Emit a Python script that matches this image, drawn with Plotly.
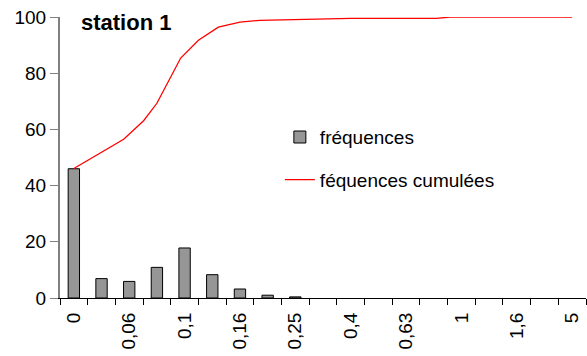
import plotly.graph_objects as go

# Sieve classes (mm) and frequency of each class (%)
classes = ["0", "0,04", "0,06", "0,08", "0,1", "0,125", "0,16", "0,2", "0,25",
           "0,315", "0,4", "0,5", "0,63", "0,8", "1", "1,25", "1,6", "2", "5"]
frequences = [46, 6.9, 5.9, 10.9, 17.8, 8.3, 3.2, 1.0, 0.4,
              0, 0, 0, 0, 0, 0, 0, 0, 0, 0]

# Cumulative curve: position along the class axis (class index) and value (%)
cumul_pos = [0, 1.8, 2.52, 3.0, 3.86, 4.5, 5.22, 6.0, 6.72, 10.0, 13.1, 13.6, 18]
cumul_val = [46.1, 56.5, 63.1, 69.3, 85.4, 91.7, 96.4, 98.2, 98.8, 99.5, 99.5, 100, 100]

# Only every second class is labelled
tick_text = [c if i % 2 == 0 else "" for i, c in enumerate(classes)]

# Empty classes get no bar at all
bar_heights = [v if v > 0 else None for v in frequences]

FONT = "Arial, Liberation Sans, sans-serif"

fig = go.Figure()
fig.add_trace(go.Bar(
    x=classes, y=bar_heights, name="fréquences",
    marker=dict(color="#969696", line=dict(color="#000000", width=1)),
    legendgroup="a",
))
fig.add_trace(go.Scatter(
    x=cumul_pos, y=cumul_val, name="féquences cumulées",
    mode="lines", line=dict(color="#FF0000", width=1.3),
    xaxis="x2", legendgroup="b",
))

fig.update_layout(
    width=587, height=356,
    margin=dict(l=60, r=1, t=17, b=58),
    paper_bgcolor="white", plot_bgcolor="white",
    font=dict(family=FONT, size=19, color="#000000"),
    bargap=0.59,
    showlegend=True,
    legend=dict(
        x=0.418, y=0.64, xanchor="left", yanchor="top",
        bgcolor="rgba(0,0,0,0)", tracegroupgap=15,
        font=dict(size=19),
    ),
    xaxis=dict(
        type="category", range=[-0.5, len(classes) - 0.5],
        tickmode="array", tickvals=classes, ticktext=tick_text,
        tickson="boundaries", ticks="outside", ticklen=6, tickcolor="#000000",
        tickangle=-90, showline=True, linecolor="#000000", linewidth=1,
        showgrid=False, zeroline=False, ticklabelstandoff=6,
    ),
    xaxis2=dict(
        overlaying="x", range=[-0.5, len(classes) - 0.5],
        visible=False, showgrid=False, zeroline=False,
    ),
    yaxis=dict(
        range=[0, 100], dtick=20, ticks="outside", ticklen=8,
        tickcolor="#808080", showline=True, linecolor="#808080", linewidth=2,
        showgrid=False, zeroline=False,
    ),
    annotations=[dict(
        text="<b>station 1</b>", xref="paper", yref="paper",
        x=0.036, y=0.982, xanchor="left", yanchor="middle",
        showarrow=False, font=dict(size=22, family=FONT),
    )],
)

fig.write_html("out.html")
